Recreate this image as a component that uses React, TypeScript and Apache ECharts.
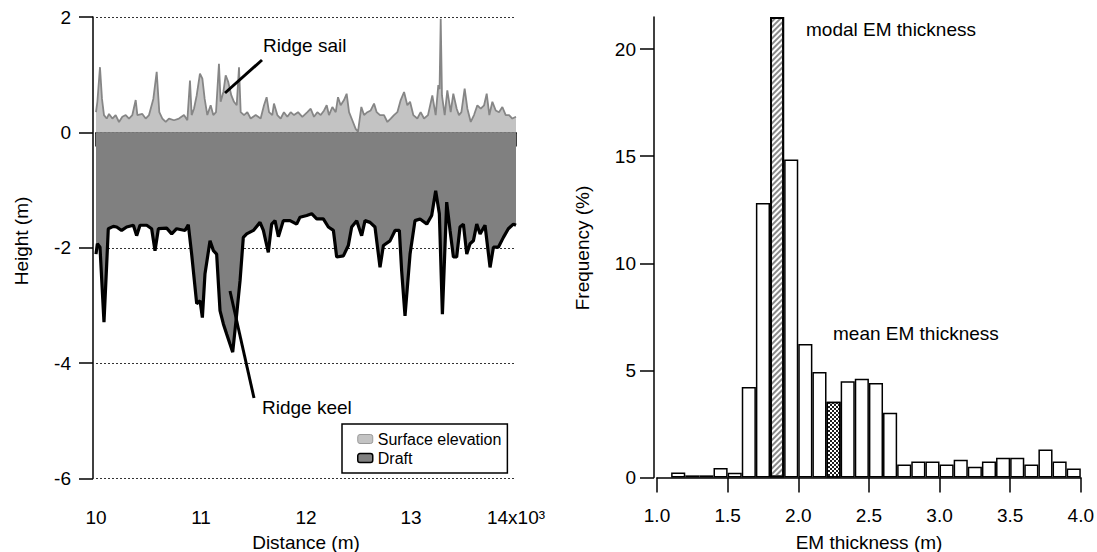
import React, { useEffect, useRef } from 'react';
import * as echarts from 'echarts';

// ---- Left panel: surface elevation profile (m) vs distance (m)
const surfaceDist = [
  10000, 10013, 10038, 10057, 10076, 10102, 10124, 10156, 10187, 10219, 10251, 10283, 10314, 10346, 10378, 10394,
  10441, 10473, 10505, 10546, 10578, 10603, 10632, 10664, 10695, 10743, 10790, 10838, 10870, 10895, 10911, 10933,
  10959, 10990, 11013, 11035, 11060, 11092, 11117, 11143, 11171, 11187, 11213, 11235, 11260, 11289, 11314, 11340,
  11362, 11378, 11410, 11441, 11473, 11521, 11568, 11600, 11625, 11648, 11679, 11695, 11727, 11759, 11790, 11822,
  11854, 11886, 11924, 11965, 12013, 12045, 12076, 12108, 12140, 12172, 12197, 12219, 12251, 12283, 12305, 12330,
  12362, 12387, 12410, 12441, 12473, 12495, 12527, 12553, 12584, 12616, 12648, 12673, 12705, 12743, 12775, 12807,
  12838, 12870, 12902, 12934, 12965, 12991, 13022, 13060, 13092, 13124, 13162, 13203, 13235, 13260, 13272, 13283,
  13295, 13321, 13346, 13378, 13403, 13435, 13457, 13480, 13511, 13537, 13569, 13600, 13632, 13664, 13696, 13721,
  13746, 13775, 13807, 13838, 13870, 13902, 13934, 13965, 14000,
];
const surfaceElev = [
  0.35, 0.53, 1.13, 0.58, 0.30, 0.24, 0.32, 0.24, 0.30, 0.18, 0.27, 0.30, 0.24, 0.30, 0.56, 0.30,
  0.32, 0.24, 0.30, 0.58, 1.05, 0.35, 0.24, 0.18, 0.24, 0.21, 0.24, 0.30, 0.21, 0.90, 0.30, 0.41,
  0.64, 1.02, 0.93, 0.58, 0.30, 0.47, 0.30, 0.35, 1.19, 0.53, 0.70, 0.99, 0.87, 0.64, 0.53, 0.47,
  1.13, 0.35, 0.30, 0.35, 0.24, 0.30, 0.24, 0.47, 0.61, 0.35, 0.30, 0.50, 0.30, 0.24, 0.35, 0.27,
  0.35, 0.30, 0.35, 0.27, 0.35, 0.41, 0.27, 0.35, 0.30, 0.38, 0.47, 0.30, 0.44, 0.35, 0.61, 0.47,
  0.56, 0.67, 0.35, 0.21, 0.06, 0.01, 0.44, 0.30, 0.35, 0.38, 0.50, 0.35, 0.30, 0.30, 0.18, 0.24,
  0.30, 0.35, 0.56, 0.70, 0.47, 0.53, 0.30, 0.24, 0.35, 0.24, 0.30, 0.64, 0.30, 0.82, 0.75, 1.97,
  0.64, 0.30, 0.73, 0.35, 0.67, 0.41, 0.30, 0.35, 0.76, 0.41, 0.18, 0.30, 0.47, 0.41, 0.47, 0.67,
  0.30, 0.53, 0.38, 0.35, 0.44, 0.30, 0.30, 0.24, 0.27,
];

// ---- Left panel: ice draft (m, negative) vs distance (m)
const draftDist = [
  10000, 10013, 10038, 10076, 10102, 10117, 10165, 10197, 10244, 10292, 10356, 10387, 10419, 10483, 10530, 10562,
  10594, 10673, 10721, 10768, 10848, 10879, 10911, 10959, 10991, 11013, 11038, 11086, 11118, 11149, 11181, 11213,
  11245, 11276, 11302, 11340, 11372, 11403, 11435, 11499, 11562, 11594, 11641, 11673, 11705, 11737, 11784, 11848,
  11911, 11943, 12007, 12054, 12102, 12165, 12213, 12261, 12292, 12356, 12403, 12435, 12483, 12530, 12562, 12610,
  12657, 12705, 12737, 12800, 12848, 12889, 12911, 12943, 12991, 13038, 13086, 13150, 13197, 13235, 13270, 13299,
  13340, 13372, 13404, 13435, 13467, 13499, 13531, 13562, 13594, 13626, 13658, 13705, 13753, 13785, 13832, 13880,
  13927, 13975, 14000,
];
const draftDepth = [
  -2.11, -1.93, -1.99, -3.29, -2.28, -1.67, -1.63, -1.64, -1.70, -1.64, -1.61, -1.79, -1.61, -1.61, -1.67, -2.05,
  -1.67, -1.66, -1.76, -1.67, -1.70, -1.60, -2.11, -2.97, -2.92, -3.21, -2.45, -1.88, -2.05, -2.11, -3.09, -3.32,
  -3.50, -3.67, -3.81, -3.15, -2.57, -1.82, -1.76, -1.70, -1.56, -1.70, -2.08, -1.59, -1.53, -1.81, -1.53, -1.53,
  -1.59, -1.47, -1.44, -1.41, -1.50, -1.50, -1.64, -1.70, -2.16, -2.14, -1.96, -1.64, -1.53, -1.79, -1.53, -1.56,
  -1.64, -2.34, -1.96, -1.88, -1.70, -1.70, -2.40, -3.18, -2.11, -1.53, -1.50, -1.59, -1.44, -1.01, -1.41, -3.15,
  -1.21, -1.70, -2.16, -2.16, -1.64, -1.59, -2.11, -1.93, -1.88, -1.59, -1.76, -1.61, -2.34, -1.99, -1.99, -1.82,
  -1.67, -1.59, -1.61,
];

// ---- Right panel: EM thickness histogram (bin centres, 0.1 m bins) and frequency (%)
const binCenters = [
  1.15, 1.25, 1.35, 1.45, 1.55, 1.65, 1.75, 1.85, 1.95, 2.05, 2.15, 2.25, 2.35, 2.45, 2.55,
  2.65, 2.75, 2.85, 2.95, 3.05, 3.15, 3.25, 3.35, 3.45, 3.55, 3.65, 3.75, 3.85, 3.95,
];
const frequency = [
  0.23, 0.1, 0.1, 0.44, 0.22, 4.22, 12.82, 21.5, 14.85, 6.23, 4.92, 3.54, 4.49, 4.61, 4.41,
  3.02, 0.61, 0.75, 0.75, 0.61, 0.83, 0.5, 0.75, 0.92, 0.92, 0.61, 1.31, 0.75, 0.42,
];
const modalBin = 1.85;
const meanBin = 2.25;
const freqTicks = [0, 5, 10, 15, 20];

const FONT = '"Liberation Sans", Arial, Helvetica, sans-serif';

export default function App() {
  const ref = useRef<HTMLDivElement>(null);

  useEffect(() => {
    const chart = echarts.init(ref.current as HTMLDivElement, null, { renderer: 'svg' });

    const hatch = {
      symbol: 'rect', symbolSize: 1, color: '#8a8a8a', backgroundColor: '#ffffff',
      dashArrayX: [1, 0], dashArrayY: [2, 2], rotation: -Math.PI / 4,
    };
    const checker = {
      symbol: 'rect', symbolSize: 1, color: '#1e1e1e', backgroundColor: '#ffffff',
      dashArrayX: [[2, 2], [0, 2, 2, 0]], dashArrayY: [2, 0],
    };

    const barData = binCenters.map((c, i) => {
      const item: any = { value: [c, frequency[i]] };
      if (c === modalBin) item.itemStyle = { decal: hatch, borderWidth: 2 };
      if (c === meanBin) item.itemStyle = { decal: checker };
      return item;
    });

    const axisLine = { show: true, lineStyle: { color: '#000', width: 1.5 } };
    const axisTick = { show: true, length: 14, lineStyle: { color: '#000', width: 1.5 } };
    const labelStyle = { color: '#000', fontSize: 19, fontFamily: FONT };

    const txt = (text: string, x: number, y: number, extra: any = {}) => ({
      type: 'text', x, y, ...extra,
      style: { text, fill: '#000', fontSize: 19, fontFamily: FONT, verticalAlign: 'middle', align: 'left', ...(extra.style || {}) },
    });

    chart.setOption({
      animation: false,
      textStyle: { fontFamily: FONT },
      grid: [
        { left: 96, right: 581, top: 17, bottom: 73.5 },
        { left: 657, right: 16, top: 17, bottom: 74.5 },
      ],
      xAxis: [
        {
          type: 'value', gridIndex: 0, min: 10000, max: 14000, interval: 1000, offset: 3,
          axisLine, axisTick,
          axisLabel: { ...labelStyle, margin: 26, formatter: (v: number) => (v === 14000 ? '14x10³' : String(v / 1000)) },
          splitLine: { show: false },
        },
        {
          type: 'value', gridIndex: 1, min: 1, max: 4, interval: 0.5, offset: 1,
          axisLine, axisTick: { ...axisTick, length: 15 },
          axisLabel: { ...labelStyle, margin: 27, formatter: (v: number) => v.toFixed(1) },
          splitLine: { show: false },
        },
      ],
      yAxis: [
        {
          type: 'value', gridIndex: 0, min: -6, max: 2, interval: 2, offset: 3,
          axisLine, axisTick,
          axisLabel: { ...labelStyle, margin: 22 },
          splitLine: { show: true, lineStyle: { type: [2, 2], color: '#333', width: 1 } },
        },
        {
          type: 'value', gridIndex: 1, min: 0, max: 21.5, interval: 5, offset: 3,
          axisLine,
          axisTick: { ...axisTick, customValues: freqTicks },
          axisLabel: { ...labelStyle, margin: 18, customValues: freqTicks },
          splitLine: { show: false },
        },
      ],
      legend: {
        left: 342, top: 424, orient: 'vertical',
        backgroundColor: '#fff', borderColor: '#000', borderWidth: 1.5,
        padding: [7, 6, 7, 15], itemWidth: 15, itemHeight: 9, itemGap: 3, itemTextGap: 14,
        textStyle: { fontSize: 16, color: '#000', fontFamily: FONT },
        selectedMode: false,
        data: [
          { name: 'Surface elevation', icon: 'roundRect', itemStyle: { color: '#c3c3c3', borderColor: '#9a9a9a', borderWidth: 1 } },
          { name: 'Draft', icon: 'roundRect', itemStyle: { color: '#808080', borderColor: '#000', borderWidth: 1.5 } },
        ],
      },
      series: [
        {
          name: 'Surface elevation', type: 'line', xAxisIndex: 0, yAxisIndex: 0,
          data: surfaceDist.map((d, i) => [d, surfaceElev[i]]),
          symbol: 'none', showSymbol: false,
          lineStyle: { color: '#868686', width: 1.8 },
          itemStyle: { color: '#c3c3c3' },
          areaStyle: { color: '#c3c3c3', opacity: 1 },
          z: 2,
        },
        {
          name: 'Draft', type: 'line', xAxisIndex: 0, yAxisIndex: 0,
          data: draftDist.map((d, i) => [d, draftDepth[i]]),
          symbol: 'none', showSymbol: false,
          lineStyle: { color: '#000', width: 3.2 },
          itemStyle: { color: '#808080' },
          areaStyle: { color: '#808080', opacity: 1 },
          z: 3,
        },
        {
          name: 'EM thickness', type: 'bar', xAxisIndex: 1, yAxisIndex: 1,
          data: barData, barWidth: '100%',
          itemStyle: { color: '#fff', borderColor: '#000', borderWidth: 1.5 },
          z: 2,
        },
      ],
      graphic: [
        { type: 'line', shape: { x1: 225, y1: 93, x2: 262, y2: 60 }, style: { stroke: '#000', lineWidth: 3 }, z: 10 },
        { type: 'line', shape: { x1: 230, y1: 291, x2: 254, y2: 398 }, style: { stroke: '#000', lineWidth: 3 }, z: 10 },
        txt('Ridge sail', 263, 45),
        txt('Ridge keel', 262, 407),
        txt('modal EM thickness', 806, 29),
        txt('mean EM thickness', 833, 333),
        txt('Height (m)', 21, 241, { rotation: Math.PI / 2, style: { align: 'center' } }),
        txt('Frequency (%)', 582, 248, { rotation: Math.PI / 2, style: { align: 'center' } }),
        txt('Distance (m)', 306, 542, { style: { align: 'center' } }),
        txt('EM thickness (m)', 869, 542, { style: { align: 'center' } }),
      ],
    });

    return () => chart.dispose();
  }, []);

  return <div ref={ref} style={{ position: 'absolute', left: 0, top: 0, width: 1097, height: 552 }} />;
}
